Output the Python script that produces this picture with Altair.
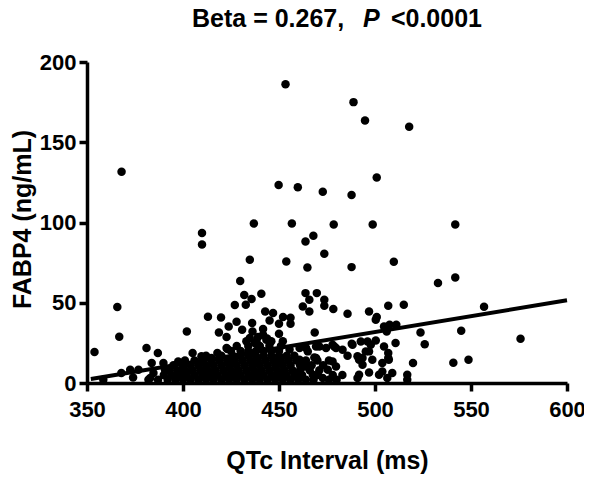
import altair as alt
import pandas as pd

# Individual (readable) points: (QTc interval ms, FABP4 ng/mL)
sparse_points = [
    (453.4, 186.2), (368.0, 131.6), (449.8, 123.3), (459.8, 122.0), (472.8, 119.1),
    (436.9, 99.4), (456.7, 99.4), (478.5, 98.8), (409.9, 93.4), (409.9, 86.3),
    (467.9, 91.8), (463.8, 88.2), (488.8, 175.0), (494.8, 163.5), (517.8, 159.6),
    (500.9, 128.0), (487.8, 117.2), (498.8, 98.8), (541.8, 98.8), (473.6, 80.5),
    (434.8, 76.8), (453.8, 75.7), (464.8, 72.0), (429.8, 63.5), (431.9, 54.8),
    (440.8, 55.6), (463.8, 56.0), (469.7, 56.0), (435.7, 52.3), (432.7, 48.8),
    (427.0, 48.6), (465.8, 51.9), (473.6, 51.9), (473.6, 48.1), (462.4, 47.7),
    (465.8, 44.6), (478.3, 46.1), (365.8, 47.3), (442.8, 44.6), (446.9, 43.6),
    (413.0, 41.3), (419.8, 40.8), (427.9, 38.2), (436.0, 37.4), (452.1, 41.1),
    (456.0, 40.7), (456.0, 36.9), (450.0, 36.9), (445.1, 39.0), (423.8, 35.2),
    (430.8, 33.2), (441.7, 33.6), (402.0, 32.1), (418.7, 31.5), (436.2, 32.1),
    (468.6, 31.5), (450.0, 30.7), (366.8, 28.8), (422.7, 28.6), (439.1, 28.6),
    (443.8, 27.8), (437.4, 24.9), (381.0, 21.8), (422.7, 21.8), (353.9, 19.3),
    (386.9, 18.7), (405.0, 18.7), (471.0, 22.8), (464.1, 21.8), (417.9, 18.7),
    (468.4, 15.9), (487.8, 72.2), (509.8, 75.5), (532.8, 62.3), (541.8, 65.8),
    (485.7, 43.2), (496.9, 44.6), (500.9, 41.1), (506.9, 48.1), (515.0, 48.8),
    (556.8, 47.5), (507.6, 36.3), (511.1, 36.3), (506.1, 32.1), (523.7, 31.5),
    (544.9, 32.6), (575.8, 27.6), (525.9, 24.2), (510.7, 24.9), (487.9, 24.5),
    (477.9, 23.8), (479.7, 21.8), (492.6, 25.9), (496.1, 25.9), (500.4, 26.5),
    (504.7, 22.8), (506.9, 18.7), (506.9, 15.6), (496.9, 19.7), (490.9, 16.6),
    (493.5, 15.6), (485.7, 17.0), (519.8, 12.5), (540.8, 12.6), (548.7, 14.5),
    (493.5, 11.4), (496.9, 6.6), (502.1, 5.2), (503.8, 7.2), (509.0, 6.2),
    (516.8, 5.2), (516.8, 2.1), (490.9, 3.1), (506.4, 3.1), (491.7, 14.5),
    (498.6, 14.5), (503.8, 12.5), (507.2, 14.5), (500.4, 39.4), (504.7, 35.2),
    (372.5, 8.3), (376.8, 8.3), (367.9, 6.2), (383.7, 12.5), (389.8, 12.5),
    (384.6, 6.2), (390.6, 8.3), (397.5, 13.4), (382.9, 3.1), (409.6, 16.6),
    (414.8, 15.6), (423.1, 21.2), (441.7, 30.1), (434.8, 28.0), (438.3, 25.9),
    (443.4, 27.0), (455.5, 20.8), (460.7, 21.8), (465.0, 19.7), (469.3, 22.8),
    (474.5, 21.8), (478.8, 22.8), (483.1, 20.7), (488.3, 23.8), (497.8, 23.8),
    (495.2, 19.7), (469.3, 15.6), (477.9, 13.4), (479.7, 10.3), (475.4, 8.3),
    (460.7, 14.5), (463.3, 10.3), (459.0, 6.2), (467.6, 5.2), (472.8, 3.1),
    (491.7, 5.2), (358.5, 2.0), (374.0, 3.5),
]

# Dense overlapping cluster near the baseline, read row by row
blob_levels = [2, 5, 8, 11, 14, 17, 20, 23, 26]
blob_rows = [
    [382, 387, 392, 396, 400, 404, 408, 412, 416, 420, 424, 428, 432, 436, 440, 444, 448, 452, 456, 460, 464, 468, 476, 480],
    [390, 394, 398, 402, 406, 410, 414, 418, 422, 426, 430, 434, 438, 442, 446, 450, 454, 458, 462, 470, 478, 483],
    [393, 397, 401, 405, 409, 413, 417, 421, 425, 429, 433, 437, 441, 445, 449, 453, 457, 461, 466, 471],
    [395, 400, 404, 408, 412, 416, 420, 424, 428, 432, 436, 440, 444, 448, 452, 456, 461, 467, 473],
    [401, 406, 410, 415, 419, 423, 427, 431, 435, 439, 443, 447, 451, 455, 459, 464, 470, 476],
    [412, 420, 426, 430, 434, 438, 442, 446, 450, 454, 458],
    [425, 430, 434, 438, 442, 446, 450],
    [428, 434, 440, 445, 451],
    [433, 446, 452],
]

# Regression line end points
line_qtc = [352, 600]
line_fabp4 = [2.5, 51.5]

x_ticks = [350, 400, 450, 500, 550, 600]
y_ticks = [0, 50, 100, 150, 200]

rows = [{"qtc": x, "fabp4": y} for x, y in sparse_points]
for level, xs in zip(blob_levels, blob_rows):
    rows += [{"qtc": x, "fabp4": level} for x in xs]
df = pd.DataFrame(rows)
df_line = pd.DataFrame({"qtc": line_qtc, "fabp4": line_fabp4})

FONT = "Liberation Sans"

xscale = alt.Scale(domain=[350, 600], nice=False, zero=False)
yscale = alt.Scale(domain=[0, 200], nice=False)

common_axis = dict(
    grid=False,
    labelFlush=False,
    labelOverlap=False,
    domainColor="black",
    domainWidth=3.5,
    tickColor="black",
    tickWidth=3.5,
    tickSize=8,
    labelFont=FONT,
    labelFontWeight="bold",
    labelFontSize=22,
    labelColor="black",
    titleFont=FONT,
    titleFontWeight="bold",
    titleFontSize=25,
    titleColor="black",
)

xaxis = alt.Axis(
    values=x_ticks, title="QTc Interval (ms)", labelPadding=8,
    titleY=77, titleBaseline="middle", **common_axis
)
yaxis = alt.Axis(
    values=y_ticks, title="FABP4 (ng/mL)", labelPadding=3,
    titleX=-64.5, titleY=157, titleBaseline="middle", titleAlign="center",
    **common_axis
)

points = alt.Chart(df).mark_circle(color="black", opacity=1, size=72).encode(
    x=alt.X("qtc:Q", scale=xscale, axis=xaxis),
    y=alt.Y("fabp4:Q", scale=yscale, axis=yaxis),
)

reg = alt.Chart(df_line).mark_line(color="black", strokeWidth=4).encode(
    x=alt.X("qtc:Q", scale=xscale),
    y=alt.Y("fabp4:Q", scale=yscale),
)

title_df = pd.DataFrame({"a": [0]})
t1 = alt.Chart(title_df).mark_text(
    font=FONT, fontWeight="bold", fontSize=25, align="left", baseline="alphabetic", color="black"
).encode(x=alt.value(105), y=alt.value(-35), text=alt.value("Beta = 0.267,"))
t2 = alt.Chart(title_df).mark_text(
    font=FONT, fontWeight="bold", fontStyle="italic", fontSize=25, align="left", baseline="alphabetic", color="black"
).encode(x=alt.value(276), y=alt.value(-35), text=alt.value("P"))
t3 = alt.Chart(title_df).mark_text(
    font=FONT, fontWeight="bold", fontSize=25, align="right", baseline="alphabetic", color="black"
).encode(x=alt.value(395), y=alt.value(-35), text=alt.value("<0.0001"))

chart = alt.layer(points, reg, t1, t2, t3).properties(
    width=480,
    height=321,
    autosize=alt.AutoSizeParams(type="none"),
    padding={"left": 79, "top": 54, "right": 17, "bottom": 100},
).configure_view(strokeWidth=0)

chart.save("out.html", embed_options={"renderer": "svg", "actions": False})
